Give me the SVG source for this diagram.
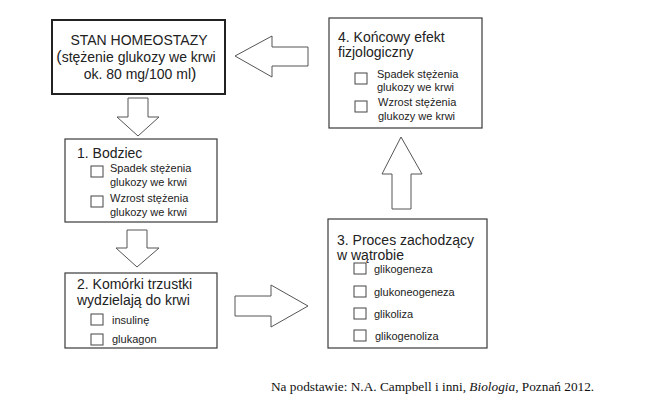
<svg xmlns="http://www.w3.org/2000/svg" width="657" height="410" viewBox="0 0 657 410">
<style>
.box{fill:#fff;stroke:#3a3a3a;stroke-width:1.2}
.main{fill:#fff;stroke:#222;stroke-width:2}
.arr{fill:#fff;stroke:#555;stroke-width:1}
.cb{fill:#fff;stroke:#444;stroke-width:1}
.t{font-family:"Liberation Sans",Arial,sans-serif;font-size:14px;fill:#222}
.s{font-family:"Liberation Sans",Arial,sans-serif;font-size:11px;fill:#222}
.src{font-family:"Liberation Serif","Times New Roman",serif;font-size:13.3px;fill:#111}
</style>
<rect width="657" height="410" fill="#fff"/>
<g id="connectors">
<polygon class="arr" points="235,56 272,36 272,47 308,47 308,66 272,66 272,77"/>
<polygon class="arr" points="128,98 148,98 148,117 159,117 138,136 117,117 128,117"/>
<polygon class="arr" points="127,230 147,230 147,248 159,248 137,267 116,248 127,248"/>
<polygon class="arr" points="235,296 271,296 271,285 308,306 271,327 271,316 235,316"/>
<polygon class="arr" points="401,137 422,174 411,174 411,209 392,209 392,174 382,174"/>
</g>
<g id="stan">
<rect class="main" x="52" y="20" width="173" height="74"/>
<text class="t" x="139" y="44.5" text-anchor="middle">STAN HOMEOSTAZY</text>
<text class="t" x="136" y="61.5" text-anchor="middle"><tspan font-size="16">(</tspan>stężenie glukozy we krwi</text>
<text class="t" x="140" y="79" text-anchor="middle">ok. 80 mg/100 ml<tspan font-size="16">)</tspan></text>
</g>
<g id="box4">
<rect class="box" x="329" y="18" width="153" height="110"/>
<text class="t" x="338" y="42">4. Końcowy efekt</text>
<text class="t" x="338" y="57">fizjologiczny</text>
<rect class="cb" x="355" y="73" width="12" height="11"/>
<text class="s" x="377" y="77.5">Spadek stężenia</text>
<text class="s" x="377" y="91">glukozy we krwi</text>
<rect class="cb" x="355" y="101" width="12" height="11"/>
<text class="s" x="378" y="106">Wzrost stężenia</text>
<text class="s" x="378" y="120">glukozy we krwi</text>
</g>
<g id="box1">
<rect class="box" x="65" y="139" width="152" height="83"/>
<text class="t" x="77" y="158">1. Bodziec</text>
<rect class="cb" x="91" y="166" width="12" height="11"/>
<text class="s" x="110" y="172">Spadek stężenia</text>
<text class="s" x="110" y="186">glukozy we krwi</text>
<rect class="cb" x="91" y="196" width="12" height="11"/>
<text class="s" x="110" y="202">Wzrost stężenia</text>
<text class="s" x="110" y="216">glukozy we krwi</text>
</g>
<g id="box2">
<rect class="box" x="65" y="273" width="152" height="75"/>
<text class="t" x="77" y="289">2. Komórki trzustki</text>
<text class="t" x="77" y="305">wydzielają do krwi</text>
<rect class="cb" x="91" y="314" width="12" height="11"/>
<text class="s" x="112" y="324">insulinę</text>
<rect class="cb" x="91" y="334" width="12" height="11"/>
<text class="s" x="112" y="343">glukagon</text>
</g>
<g id="box3">
<rect class="box" x="328" y="219" width="159" height="129"/>
<text class="t" x="337" y="245">3. Proces zachodzący</text>
<text class="t" x="337" y="260">w wątrobie</text>
<rect class="cb" x="354" y="263" width="12" height="11"/>
<text class="s" x="374" y="273">glikogeneza</text>
<rect class="cb" x="354" y="286" width="12" height="11"/>
<text class="s" x="374" y="296">glukoneogeneza</text>
<rect class="cb" x="354" y="308" width="12" height="11"/>
<text class="s" x="374" y="318">glikoliza</text>
<rect class="cb" x="354" y="330" width="12" height="11"/>
<text class="s" x="375" y="340">glikogenoliza</text>
</g>
<text class="src" x="271" y="391">Na podstawie: N.A. Campbell i inni, <tspan font-style="italic">Biologia</tspan>, Poznań 2012.</text>
</svg>
